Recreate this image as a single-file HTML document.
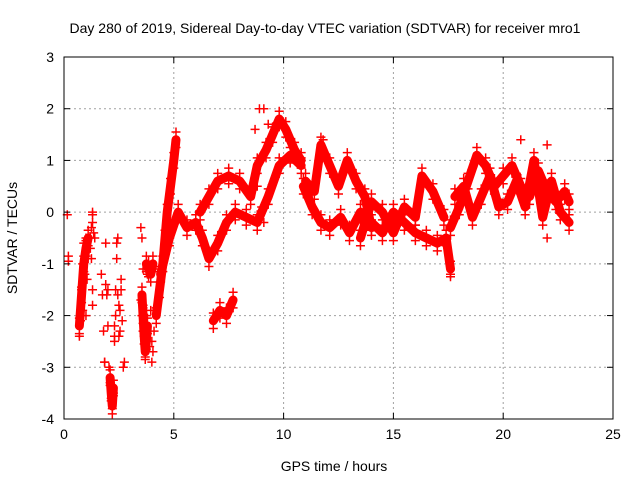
<!DOCTYPE html>
<html><head><meta charset="utf-8"><style>
body{margin:0;background:#fff;}
svg{display:block;font-family:"Liberation Sans",sans-serif;}
</style></head><body>
<svg id="chart" width="640" height="480">
<text x="325" y="33" text-anchor="middle" font-size="14">Day 280 of 2019, Sidereal Day-to-day VTEC variation (SDTVAR) for receiver mro1</text>
<text x="334" y="471" text-anchor="middle" font-size="14">GPS time / hours</text>
<text transform="translate(17,238) rotate(-90)" text-anchor="middle" font-size="14">SDTVAR / TECUs</text>
<g id="grid"></g><g id="marks"></g><g id="axes"></g>
</svg>
<script>
const xTicks=[0,5,10,15,20,25];
const yTicks=[-4,-3,-2,-1,0,1,2,3];
const track1H=[4.2,4.35,4.5,4.6,4.7,4.85,5.0,5.1];
const track1V=[-2.0,-1.5,-1.0,-0.5,0,0.5,1.0,1.4];
const track2H=[4.4,4.8,5.2,5.6,6.0,6.3,6.6,7.0,7.4,7.8,8.3,8.8,9.3,9.8,10.3,10.8];
const track2V=[-1.2,-0.5,0,-0.3,-0.2,-0.5,-0.9,-0.6,-0.2,0.0,-0.1,-0.2,0.3,0.9,1.1,0.9];
const track3H=[6.2,6.6,7.0,7.5,8.0,8.5,8.8,9.2,9.5,9.8,10.1,10.5,10.8];
const track3V=[0.0,0.3,0.6,0.7,0.6,0.3,0.9,1.2,1.5,1.8,1.6,1.2,1.0];
const track4H=[6.8,7.1,7.4,7.7];
const track4V=[-2.1,-1.9,-2.0,-1.7];
const track5H=[11,11.4,11.7,12.1,12.5,12.9,13.3,13.7,14.0];
const track5V=[0.6,0.4,1.3,0.9,0.5,1.0,0.6,0.3,-0.3];
const track6H=[10.9,11.3,11.7,12.1,12.6,13.0,13.5,14.0,14.5,15.0,15.5,16.0,16.5,17.0,17.4,17.6];
const track6V=[0.5,0.1,-0.2,-0.3,-0.1,-0.4,0.0,-0.2,-0.4,0.0,-0.2,-0.4,-0.5,-0.6,-0.5,-1.1];
const track7H=[13.5,14.0,14.5,15.0,15.5,16.0,16.3,16.8,17.3];
const track7V=[-0.5,0.2,0.0,-0.4,0.1,-0.1,0.7,0.4,-0.1];
const track8H=[17.6,18.0,18.4,18.8,19.2,19.6,20.0,20.4,20.8,21.2,21.6,22.0,22.4,22.8,23.0];
const track8V=[-0.3,0.1,0.6,1.1,0.9,0.5,0.7,0.9,0.5,0.3,0.8,0.4,0.2,0.4,0.2];
const track9H=[17.8,18.2,18.6,19.0,19.4,19.8,20.2,20.6,21.0,21.4,21.8,22.2,22.6,23.0];
const track9V=[0.3,0.5,-0.1,0.3,0.7,0.1,0.2,0.6,0.1,1.0,-0.1,0.6,0.0,-0.2];
const track10H=[0.7,0.8,0.9,1.0,1.1];
const track10V=[-2.2,-1.6,-1.0,-0.7,-0.5];
const track11H=[2.1,2.15,2.2,2.25];
const track11V=[-3.2,-3.5,-3.75,-3.4];
const track12H=[3.55,3.6,3.65,3.7,3.75,3.8];
const track12V=[-1.6,-2.0,-2.4,-2.7,-2.5,-2.2];
const track13H=[3.75,3.85,3.95,4.05];
const track13V=[-1.0,-1.1,-1.2,-1.0];
const scatterH=[0.15,0.2,0.2,0.7,0.75,0.8,0.85,0.9,1.0,1.05,1.1,1.2,1.25,1.3,1.3,1.7,1.75,1.8,1.85,1.9,2.0,2.05,2.1,2.15,2.2,2.25,2.3,2.35,2.4,2.45,2.5,2.55,2.6,2.7,2.75,3.5,3.55,3.6,3.6,3.65,3.7,3.75,3.8,3.9,3.95,4.0,4.05,4.1,8.7,8.9,9.1,9.3,8.8,9.0,9.1,11.8,22.0,22.0,20.8,17.6,
1.3,1.3,1.35,1.4,0.85,0.95,1.0,1.9,1.95,1.85,2.0,2.3,2.35,2.45,2.5,2.55,2.6,2.65,2.3,2.4,3.5,3.55,3.6,4.0,4.05,1.2,1.25,1.3];
const scatterV=[-0.05,-0.85,-0.95,-2.4,-2.1,-1.5,-1.0,-0.6,-0.5,-1.3,-0.9,-0.5,-0.3,-0.05,-1.8,-1.2,-1.6,-2.3,-2.9,-0.6,-2.2,-3.0,-3.3,-3.6,-3.8,-3.5,-2.5,-1.5,-0.9,-0.5,-1.8,-2.3,-1.3,-3.0,-2.9,-0.3,-0.5,-1.1,-1.8,-2.4,-2.8,-2.0,-1.2,-2.6,-1.9,-2.9,-1.1,-2.3,1.6,2.0,2.0,1.7,0.5,0.1,-0.2,1.4,1.3,-0.5,1.4,-1.2,
0.0,-0.2,-0.4,-0.5,-1.9,-1.2,-2.0,-1.4,-1.6,-2.9,-1.5,-2.2,-2.0,-1.6,-2.4,-1.9,-1.5,-2.1,-2.4,-0.6,-1.7,-2.0,-2.3,-2.5,-2.7,-0.7,-0.9,-1.5];
const L=64,R=613,T=57,B=419;
const xs=h=>L+(h-0)/25*(R-L);
const ys=v=>B-(v+4)/7*(B-T);
const NS="http://www.w3.org/2000/svg";
const grid=document.getElementById('grid'),marks=document.getElementById('marks'),axes=document.getElementById('axes');
function mk(tag,attrs,parent){const e=document.createElementNS(NS,tag);for(const k in attrs)e.setAttribute(k,attrs[k]);parent.appendChild(e);return e;}
xTicks.forEach(t=>{
 if(t>0&&t<25){const g=mk('line',{x1:xs(t),x2:xs(t),y1:T,y2:B,stroke:'#a0a0a0','stroke-dasharray':'2,3'},grid);
 
 }
 const tx=mk('text',{x:xs(t),y:B+20,'text-anchor':'middle','font-size':'14'},axes);tx.textContent=t;
 
 
 mk('line',{x1:xs(t),x2:xs(t),y1:B,y2:B-6,stroke:'#000'},axes);
 mk('line',{x1:xs(t),x2:xs(t),y1:T,y2:T+6,stroke:'#000'},axes);
});
yTicks.forEach(t=>{
 if(t>-4&&t<3){const g=mk('line',{x1:L,x2:R,y1:ys(t),y2:ys(t),stroke:'#a0a0a0','stroke-dasharray':'2,3'},grid);
 
 }
 const tx=mk('text',{x:L-10,y:ys(t)+5,'text-anchor':'end','font-size':'14'},axes);tx.textContent=t;
 
 
 mk('line',{x1:L,x2:L+6,y1:ys(t),y2:ys(t),stroke:'#000'},axes);
 mk('line',{x1:R,x2:R-6,y1:ys(t),y2:ys(t),stroke:'#000'},axes);
});
const fr=mk('rect',{x:L,y:T,width:R-L,height:B-T,fill:'none',stroke:'#000'},axes);


function plus(h,v){const x=xs(h),y=ys(v);const p=mk('path',{d:`M${x-4.5} ${y}H${x+4.5}M${x} ${y-4.5}V${y+4.5}`,stroke:'#f00','stroke-width':'1.5'},marks);
 
 }
const tracks=[[track1H,track1V],[track2H,track2V],[track3H,track3V],[track4H,track4V],[track5H,track5V],[track6H,track6V],[track7H,track7V],[track8H,track8V],[track9H,track9V],[track10H,track10V],[track11H,track11V],[track12H,track12V],[track13H,track13V]];
tracks.forEach(([H,V])=>{
 const pl=mk('polyline',{points:H.map((h,i)=>xs(h)+','+ys(V[i])).join(' '),fill:'none',stroke:'#f00','stroke-width':'9','stroke-linejoin':'round','stroke-linecap':'round'},marks);
 
 
 H.forEach((h,i)=>{plus(h,V[i]+0.15);plus(h,V[i]-0.15);});
});
scatterH.forEach((h,i)=>plus(h,scatterV[i]));
</script>
</body></html>
